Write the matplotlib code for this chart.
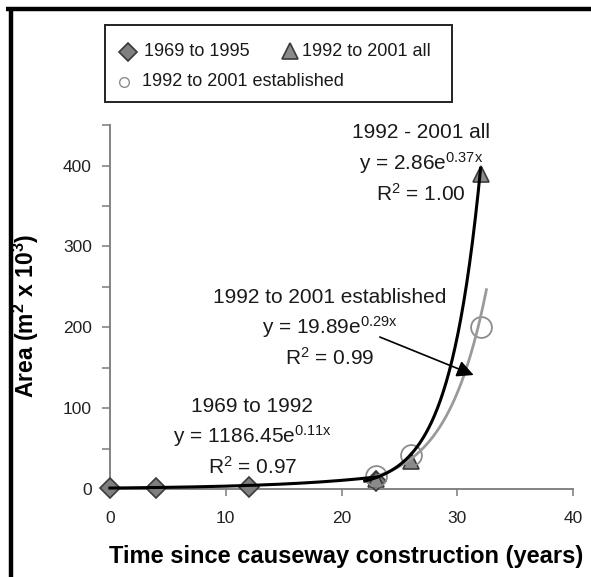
import numpy as np
import matplotlib
matplotlib.use("Agg")
import matplotlib.pyplot as plt
from matplotlib.lines import Line2D
from matplotlib.patches import Rectangle
from matplotlib.ticker import MultipleLocator

plt.rcParams['font.family'] = ['Liberation Sans', 'DejaVu Sans']
plt.rcParams['mathtext.fontset'] = 'custom'
plt.rcParams['mathtext.rm'] = 'Liberation Sans'
plt.rcParams['mathtext.it'] = 'Liberation Sans:italic'
plt.rcParams['mathtext.bf'] = 'Liberation Sans:bold'

# Observed areas (m^2 x 10^3) against years since causeway construction
early_x = [0, 4, 12, 23]
early_y = [1, 1.5, 3, 10]
all_x = [23, 26, 32]
all_y = [12, 35, 390]
est_x = [23, 26, 32]
est_y = [16, 42, 200]

# Exponential trendlines y = a * exp(b * x), a in m^2
fit_early = {"a": 1186.45, "b": 0.11, "r2": 0.97, "x0": 0.0, "x1": 23.0}
fit_all = {"a": 2.86, "b": 0.37, "r2": 1.00, "x0": 22.0, "x1": 32.0}
fit_est = {"a": 19.89, "b": 0.29, "r2": 0.99, "x0": 22.0, "x1": 32.5}

legend_labels = ["1969 to 1995", "1992 to 2001 all", "1992 to 2001 established"]
xlabel = "Time since causeway construction (years)"
ylabel = r"Area (m$^{\mathbf{2}}$ x 10$^{\mathbf{3}}$)"

diamond_style = dict(marker="D", markerfacecolor="#7f7f7f",
                     markeredgecolor="#3a3a3a", markeredgewidth=1.2)
triangle_style = dict(marker="^", markerfacecolor="#8a8a8a",
                      markeredgecolor="#3a3a3a", markeredgewidth=1.2)
circle_style = dict(marker="o", markerfacecolor="none",
                    markeredgecolor="#8c8c8c", markeredgewidth=1.3)


def trend(fit, n=200):
    xs = np.linspace(fit["x0"], fit["x1"], n)
    return xs, fit["a"] * np.exp(fit["b"] * xs) / 1000.0


fig = plt.figure(figsize=(5.91, 5.77), dpi=100)
ax = fig.add_axes([0.186, 0.1525, 0.784, 0.6305])

gray_edge = "#7a7a7a"
ax.plot(early_x, early_y, linestyle="none", markersize=10,
        clip_on=False, zorder=3, **diamond_style)
ax.plot(all_x, all_y, linestyle="none", markersize=12,
        clip_on=False, zorder=3, **triangle_style)
ax.plot(est_x, est_y, linestyle="none", markersize=15,
        clip_on=False, zorder=3, **circle_style)

xs, ys = trend(fit_est)
ax.plot(xs, ys, color="#9a9a9a", lw=2.0, clip_on=False, zorder=4)
xs, ys = trend(fit_early)
ax.plot(xs, ys, color="black", lw=2.2, clip_on=False, zorder=5)
xs, ys = trend(fit_all)
ax.plot(xs, ys, color="black", lw=2.2, clip_on=False, zorder=5)

ax.set_xlim(0, 40)
ax.set_ylim(0, 450)
ax.xaxis.set_major_locator(MultipleLocator(10))
ax.yaxis.set_major_locator(MultipleLocator(100))
ax.yaxis.set_minor_locator(MultipleLocator(50))
ax.set_yticks([0, 100, 200, 300, 400])
ax.tick_params(axis="both", which="both", direction="out", color=gray_edge,
               width=1.1, labelsize=12.5, labelcolor="#222222")
ax.tick_params(axis="y", which="both", length=6, pad=7)
ax.tick_params(axis="x", which="both", length=5, pad=10.5)

for side in ("top", "right"):
    ax.spines[side].set_visible(False)
for side in ("left", "bottom"):
    ax.spines[side].set_color(gray_edge)
    ax.spines[side].set_linewidth(1.3)

ax.set_xlabel(xlabel, fontsize=17, fontweight="bold")
ax.set_ylabel(ylabel, fontsize=16.5, fontweight="bold")
ax.xaxis.set_label_coords(0.509, -0.154)
ax.yaxis.set_label_coords(-0.149, 0.475)


def fit_text(title, fit):
    b = f"{fit['b']:.2f}"
    return (f"{title}\n"
            f"y = {fit['a']:.2f}e$^{{\\mathrm{{{b}x}}}}$\n"
            f"R$^{{\\mathrm{{2}}}}$ = {fit['r2']:.2f}")


txt_kw = dict(fontsize=15, ha="center", va="center", linespacing=1.38,
              color="#1a1a1a")
ax.text(26.85, 402, fit_text("1992 - 2001 all", fit_all), **txt_kw)
ax.text(19.0, 199, fit_text("1992 to 2001 established", fit_est), **txt_kw)
ax.text(12.3, 64, fit_text("1969 to 1992", fit_early), **txt_kw)

ax.annotate("", xy=(31.4, 141), xytext=(23.3, 188),
            arrowprops=dict(arrowstyle="-|>,head_length=1.0,head_width=0.5",
                            color="black", lw=1.2, shrinkA=0, shrinkB=0),
            zorder=6)

# Overlay in figure pixels for the key box and the panel frame
lay = fig.add_axes([0, 0, 1, 1], zorder=10)
lay.set_xlim(0, 591)
lay.set_ylim(577, 0)
lay.axis("off")
lay.patch.set_alpha(0)

lay.add_patch(Rectangle((105, 25), 347, 77, facecolor="white",
                        edgecolor="#222222", lw=1.4))
key_items = [
    (diamond_style, 9, 128, 52, 144, legend_labels[0]),
    (triangle_style, 12, 290, 51, 302, legend_labels[1]),
    (dict(circle_style, markeredgewidth=1.0), 7, 124, 82, 142, legend_labels[2]),
]
for style, ms, mx, my, tx, label in key_items:
    lay.plot([mx], [my], linestyle="none", markersize=ms, **style)
    lay.text(tx, my, label, fontsize=13, ha="left", va="center",
             color="#1a1a1a")

lay.plot([6, 591], [9, 9], color="black", lw=3.2, solid_capstyle="butt")
lay.plot([11, 11], [9, 577], color="black", lw=3.2, solid_capstyle="butt")

fig.savefig("out.png", dpi=100, facecolor="white")
